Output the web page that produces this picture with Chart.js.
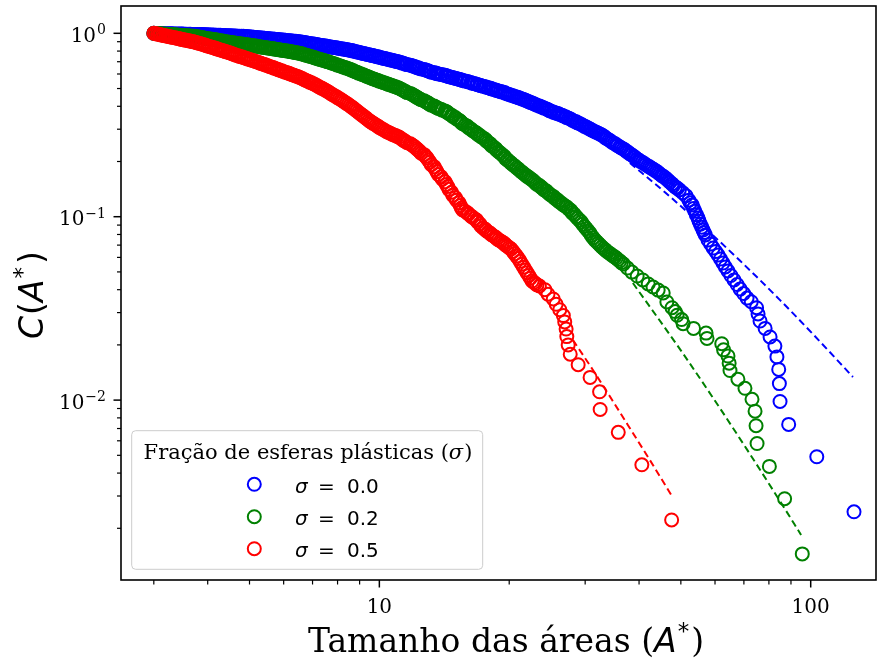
<!DOCTYPE html>
<html>
<head>
<meta charset="utf-8">
<script src="https://cdn.jsdelivr.net/npm/chart.js"></script>
<style>
  html, body { margin: 0; padding: 0; background: #fff; }
  canvas { display: block; }
</style>
</head>
<body>
<canvas id="chart" width="880" height="662"></canvas>
<script>
// valores (A*, C(A*))
const blueX = [3.00,3.11,3.23,3.36,3.48,3.62,3.76,3.90,4.05,4.20,4.36,4.53,4.70,4.88,5.06,5.26,5.46,5.67,5.88,6.11,
  6.34,6.58,6.83,7.09,7.36,7.64,7.93,8.23,8.55,8.87,9.21,9.56,9.93,10.3,10.7,11.1,11.5,12.0,12.4,12.9,
  13.4,13.9,14.4,15.0,15.5,16.1,16.8,17.4,18.1,18.7,19.5,20.2,21.0,21.8,22.6,23.5,24.4,25.3,26.2,27.2,
  28.3,29.4,30.5,31.6,32.8,34.1,35.4,36.8,38.1,39.6,41.1,42.7,44.3,46.0,47.7,49.6,
  51.4,53.1,54.8,56.3,57.8,59.4,61.0,62.6,64.3,66.4,68.6,71.2,
  72.8,74.9,75.5,76.3,78.4,80.5,82.6,83.5,84.3,84.6,84.9,88.9,103.3,126.0];
const blueY = [1.000,0.997,0.995,0.992,0.990,0.987,0.986,0.984,0.980,0.976,0.973,0.969,0.965,0.962,0.954,0.946,0.938,0.930,0.922,0.913,
  0.906,0.897,0.883,0.871,0.858,0.846,0.834,0.821,0.809,0.792,0.775,0.760,0.744,0.728,0.713,0.697,0.679,0.662,0.643,0.627,
  0.610,0.597,0.583,0.569,0.556,0.543,0.528,0.515,0.501,0.488,0.475,0.460,0.446,0.432,0.417,0.401,0.387,0.372,0.361,0.347,
  0.332,0.318,0.304,0.291,0.279,0.262,0.247,0.234,0.220,0.206,0.195,0.184,0.174,0.163,0.151,0.140,
  0.130,0.116,0.0984,0.0846,0.0746,0.0675,0.0618,0.0559,0.0506,0.0452,0.0403,0.0360,
  0.0344,0.0319,0.0295,0.0270,0.0246,0.0221,0.0197,0.0172,0.0147,0.0123,0.00983,0.00737,0.00491,0.00246];

const bandX = [3.06,3.17,3.29,3.42,3.55,3.69,3.83,3.97,4.13,4.28,
  4.45,4.61,4.79,4.97,5.16,5.36,5.56,5.78,5.99,6.22,
  6.46,6.70,6.96,7.22,7.50,7.78,8.08,8.39,8.71,9.04,
  9.38,9.74,10.1,10.5,10.9,11.3,11.8,12.2,12.7,13.1,
  13.6,14.2,14.7,15.3,15.8,16.4,17.1,17.7,18.4,19.1,
  19.8,20.6,21.4,22.2,23.0,23.9,24.8,25.8,26.7,27.8,
  28.8,29.9,31.0,32.2,33.4,34.7,36.1,37.4,38.9,40.3,
  41.9,43.5,45.1,46.8,48.6];
const bandX2 = [3.03,3.09,3.14,3.20,3.26,3.32,3.39,3.45,3.51,3.58,
  3.65,3.72,3.79,3.87,3.94,4.01,4.09,4.17,4.24,4.32,
  4.40,4.49,4.57,4.65,4.74,4.84,4.93,5.02,5.11,5.21,
  5.31,5.41,5.51,5.61,5.72,5.83,5.94,6.05,6.17,6.28,
  6.40,6.52,6.64,6.76,6.89,7.03,7.16,7.29,7.43,7.57,
  7.71,7.85,8.00,8.16,8.31,8.47,8.63,8.79,8.95,9.12,
  9.30,9.47,9.65,9.83,10.0,10.2,10.4,10.6,10.8,11.0,
  11.2,11.4,11.6,11.9,12.1,12.3,12.5,12.8,13.0,13.2,
  13.5,13.7,14.0,14.3,14.5,14.8,15.1,15.4,15.6,16.0,
  16.3,16.6,16.9,17.2,17.6,17.9,18.2,18.6,18.9,19.3,
  19.6,20.0,20.4,20.8,21.2,21.6,22.0,22.4,22.8,23.2,
  23.7,24.1,24.6,25.0,25.5,26.0,26.5,27.0,27.5,28.0,
  28.6,29.1,29.6,30.2,30.8,31.3,31.9,32.5,33.1,33.7,
  34.4,35.1,35.7,36.4,37.1,37.8,38.5,39.2,40.0,40.7,
  41.5,42.3,43.1,43.9,44.7,45.5,46.4,47.2,48.1,49.1];

const blueBandX = bandX.concat([50.5,52.2,53.9,55.5,57.0,58.6,60.2,61.8,63.4,65.3,67.5,69.9]);
const blueBandY = [0.998,0.996,0.993,0.991,0.989,0.986,0.985,0.982,0.978,0.975,
  0.971,0.967,0.963,0.958,0.950,0.942,0.934,0.926,0.918,0.910,
  0.901,0.890,0.877,0.864,0.852,0.840,0.827,0.815,0.800,0.783,
  0.767,0.752,0.736,0.720,0.705,0.688,0.670,0.652,0.635,0.618,
  0.603,0.590,0.576,0.562,0.549,0.535,0.521,0.508,0.494,0.481,
  0.467,0.453,0.439,0.424,0.409,0.394,0.379,0.366,0.354,0.340,
  0.325,0.311,0.297,0.285,0.270,0.254,0.240,0.227,0.213,0.200,
  0.189,0.179,0.168,0.157,0.145,
  0.135,0.123,0.107,0.091,0.0795,0.0710,0.0646,0.0588,0.0532,0.0478,0.0427,0.0381];
const blueBandX2 = bandX2.concat([52.6,53.5,54.3,55.1,55.9,56.6]);
const blueBandY2 = [0.999,0.998,0.997,0.996,0.994,0.993,0.992,0.991,0.990,0.988,
  0.987,0.986,0.986,0.985,0.983,0.981,0.979,0.977,0.976,0.974,
  0.972,0.970,0.968,0.966,0.964,0.963,0.960,0.956,0.952,0.948,
  0.944,0.940,0.936,0.932,0.928,0.924,0.920,0.916,0.912,0.908,
  0.904,0.899,0.894,0.887,0.880,0.874,0.868,0.861,0.855,0.849,
  0.843,0.837,0.831,0.824,0.818,0.812,0.805,0.796,0.788,0.779,
  0.771,0.764,0.756,0.748,0.740,0.732,0.724,0.716,0.709,0.701,
  0.693,0.684,0.675,0.666,0.657,0.648,0.639,0.631,0.623,0.614,
  0.607,0.600,0.594,0.587,0.580,0.573,0.566,0.559,0.553,0.546,
  0.539,0.532,0.525,0.518,0.512,0.505,0.498,0.491,0.485,0.478,
  0.471,0.464,0.457,0.450,0.443,0.436,0.428,0.420,0.413,0.405,
  0.398,0.391,0.383,0.376,0.369,0.364,0.358,0.351,0.344,0.336,
  0.329,0.322,0.315,0.308,0.301,0.294,0.288,0.282,0.275,0.266,
  0.258,0.251,0.244,0.237,0.231,0.224,0.217,0.210,0.203,0.198,
  0.192,0.187,0.182,0.177,0.171,0.166,0.160,0.154,0.148,0.143,
  0.119,0.111,0.1026,0.0946,0.0877,0.0820];

const greenX = [3.00,3.11,3.23,3.36,3.48,3.62,3.76,3.90,4.05,4.20,4.36,4.53,4.70,4.88,5.06,5.26,5.46,5.67,5.88,6.11,
  6.34,6.58,6.83,7.09,7.36,7.64,7.93,8.23,8.55,8.87,9.21,9.56,9.93,10.3,10.7,11.1,11.5,12.0,12.4,12.9,
  13.4,13.9,14.4,15.0,15.5,16.1,16.8,17.4,18.1,18.7,19.5,20.2,21.0,21.8,22.6,23.5,24.4,25.3,26.2,27.2,
  28.3,29.4,30.5,31.6,32.8,34.1,35.4,36.8,
  38.5,39.6,40.8,42.0,43.1,44.3,45.5,46.4,47.7,48.5,49.0,50.2,50.6,53.5,57.2,57.5,62.2,62.8,64.3,64.7,
  65.0,67.8,70.4,73.1,74.3,74.7,75.1,80.2,87.0,95.6];
const greenY = [1.000,0.994,0.987,0.981,0.974,0.968,0.962,0.945,0.932,0.918,0.904,0.891,0.879,0.870,0.858,0.846,0.835,0.823,0.812,0.801,
  0.789,0.775,0.755,0.735,0.716,0.697,0.677,0.656,0.636,0.613,0.592,0.571,0.553,0.536,0.519,0.503,0.481,0.460,0.439,0.420,
  0.401,0.385,0.370,0.347,0.326,0.306,0.286,0.269,0.249,0.231,0.213,0.196,0.182,0.169,0.159,0.148,0.138,0.129,0.120,0.113,
  0.103,0.0936,0.0836,0.0746,0.0684,0.0634,0.0595,0.0552,
  0.0499,0.0475,0.0452,0.0430,0.0414,0.0398,0.0384,0.0343,0.0319,0.0304,0.0290,0.0275,0.0261,0.0246,0.0232,0.0217,0.0203,0.0188,0.0174,0.0159,
  0.0145,0.0130,0.0116,0.0101,0.00870,0.00725,0.00580,0.00435,0.00290,0.00145];
const greenBandX = bandX.slice(0, 67).concat([37.6]);
const greenBandY = [0.997,0.990,0.984,0.977,0.971,0.965,0.953,0.938,0.925,0.911,
  0.897,0.885,0.874,0.864,0.852,0.840,0.829,0.817,0.806,0.795,
  0.782,0.765,0.745,0.725,0.706,0.687,0.666,0.646,0.624,0.602,
  0.581,0.562,0.544,0.527,0.511,0.492,0.470,0.449,0.429,0.410,
  0.393,0.377,0.358,0.336,0.316,0.296,0.277,0.259,0.240,0.222,
  0.204,0.189,0.175,0.164,0.153,0.143,0.133,0.124,0.116,0.108,
  0.098,0.0885,0.0790,0.0715,0.0659,0.0614,0.0573,
  0.0525];
const greenBandX2 = bandX2.slice(0, 134);
const greenBandY2 = [0.998,0.995,0.992,0.988,0.985,0.982,0.979,0.976,0.972,0.969,
  0.966,0.963,0.957,0.949,0.941,0.935,0.928,0.921,0.914,0.907,
  0.900,0.894,0.888,0.882,0.876,0.872,0.867,0.861,0.855,0.849,
  0.843,0.837,0.832,0.826,0.820,0.815,0.809,0.803,0.798,0.792,
  0.785,0.778,0.770,0.760,0.750,0.740,0.730,0.720,0.711,0.701,
  0.692,0.682,0.671,0.661,0.651,0.641,0.630,0.618,0.607,0.597,
  0.586,0.576,0.566,0.557,0.548,0.540,0.531,0.523,0.515,0.507,
  0.497,0.486,0.475,0.465,0.454,0.444,0.434,0.424,0.415,0.405,
  0.397,0.389,0.381,0.373,0.364,0.352,0.341,0.331,0.321,0.311,
  0.301,0.291,0.281,0.273,0.264,0.254,0.244,0.235,0.226,0.217,
  0.208,0.200,0.192,0.185,0.178,0.172,0.166,0.161,0.156,0.150,
  0.145,0.140,0.135,0.131,0.126,0.122,0.118,0.114,0.110,0.105,
  0.100,0.0958,0.0910,0.0860,0.0813,0.0768,0.0730,0.0699,0.0671,0.0646,
  0.0624,0.0604,0.0584,0.0562];

const redX = [3.00,3.11,3.23,3.36,3.48,3.62,3.76,3.90,4.05,4.20,4.36,4.53,4.70,4.88,5.06,5.26,5.46,5.67,5.88,6.11,
  6.34,6.58,6.83,7.09,7.36,7.64,7.93,8.23,8.55,8.87,9.21,9.56,9.93,10.3,10.7,11.1,11.5,12.0,12.4,12.9,
  13.4,13.9,14.4,15.0,15.5,16.1,16.8,17.4,18.1,18.7,19.5,20.2,21.0,21.8,22.6,23.5,
  24.2,24.6,25.3,25.7,26.2,26.7,26.9,27.1,27.2,27.4,27.7,28.9,30.8,32.4,32.5,35.8,40.6,47.6];
const redY = [1.000,0.981,0.964,0.946,0.927,0.910,0.892,0.869,0.846,0.823,0.801,0.778,0.755,0.733,0.714,0.692,0.671,0.650,0.629,0.610,
  0.591,0.571,0.548,0.526,0.501,0.477,0.452,0.428,0.403,0.377,0.352,0.329,0.311,0.295,0.282,0.272,0.257,0.243,0.227,0.209,
  0.187,0.165,0.146,0.127,0.1115,0.1034,0.0960,0.0868,0.0810,0.0760,0.0714,0.0667,0.0592,0.0512,0.0446,0.0419,
  0.0400,0.0378,0.0356,0.0333,0.0311,0.0289,0.0267,0.0244,0.0222,0.0200,0.0178,0.0156,0.0133,0.0111,0.00889,0.00667,0.00444,0.00222];
const redBandX = bandX.slice(0, 55);
const redBandY = [0.990,0.972,0.955,0.937,0.918,0.901,0.880,0.857,0.834,0.812,
  0.789,0.766,0.744,0.723,0.703,0.681,0.660,0.639,0.619,0.600,
  0.581,0.559,0.537,0.513,0.489,0.464,0.440,0.415,0.390,0.364,
  0.340,0.320,0.303,0.288,0.277,0.264,0.250,0.235,0.218,0.198,
  0.176,0.155,0.136,0.119,0.107,0.0996,0.0913,0.0838,0.0785,0.0737,
  0.0690,0.0628,0.0551,0.0478,0.0432];
const redBandX2 = bandX2.slice(0, 110);
const redBandY2 = [0.995,0.985,0.976,0.968,0.959,0.950,0.941,0.932,0.922,0.914,
  0.905,0.896,0.886,0.874,0.863,0.851,0.840,0.828,0.817,0.806,
  0.795,0.783,0.772,0.760,0.749,0.738,0.728,0.718,0.708,0.697,
  0.686,0.676,0.665,0.655,0.644,0.634,0.624,0.614,0.605,0.595,
  0.586,0.576,0.565,0.553,0.542,0.531,0.519,0.507,0.495,0.483,
  0.470,0.458,0.446,0.434,0.421,0.409,0.396,0.383,0.370,0.358,
  0.346,0.334,0.324,0.315,0.307,0.299,0.291,0.285,0.279,0.274,
  0.268,0.260,0.253,0.246,0.239,0.231,0.222,0.213,0.203,0.192,
  0.181,0.170,0.160,0.150,0.141,0.131,0.123,0.115,0.109,0.105,
  0.101,0.0978,0.0936,0.0890,0.0853,0.0824,0.0797,0.0772,0.0748,0.0725,
  0.0702,0.0678,0.0647,0.0610,0.0571,0.0531,0.0495,0.0462,0.0439,0.0425];

// ajustes (linhas tracejadas)
const blueFitX = [38.1, 46.0, 56.3, 68.6, 84.9, 101.2, 125.3];
const blueFitY = [0.1963, 0.1355, 0.0887, 0.0575, 0.0351, 0.0229, 0.01336];
const greenFitX = [38.7, 49.8, 59.4, 71.2, 84.9, 95.0];
const greenFitY = [0.0435, 0.0189, 0.01027, 0.00537, 0.00281, 0.00184];
const redFitX = [28.1, 31.3, 34.8, 38.7, 42.4, 47.7];
const redFitY = [0.02127, 0.01454, 0.00985, 0.00662, 0.00470, 0.00299];

const sigmaLabels = ['0.0', '0.2', '0.5'];
const seriesColors = ['#0000ff', '#008000', '#ff0000'];

const xTickVals = [10, 100];
const xTickText = ['10', '100'];
const yTickVals = [1, 0.1, 0.01];
const yTickBase = ['10', '10', '10'];
const yTickExp = ['0', '\u22121', '\u22122'];

const mk = (xs, ys) => xs.map((x, i) => ({ x: x, y: ys[i] }));

function scatterSet(points, color, order) {
    return {
        data: points,
        borderColor: color,
        backgroundColor: 'rgba(0,0,0,0)',
        borderWidth: 2,
        pointBorderWidth: 2,
        pointRadius: 6.5,
        pointStyle: 'circle',
        showLine: false,
        order: order
    };
}
function fitSet(xs, ys, color, order) {
    return {
        data: mk(xs, ys),
        borderColor: color,
        backgroundColor: 'rgba(0,0,0,0)',
        borderWidth: 2,
        borderDash: [7, 4],
        pointRadius: 0,
        showLine: true,
        cubicInterpolationMode: 'monotone',
        order: order
    };
}

// potencia de 10 com expoente
function drawPow(ctx, base, exp, right, baseY) {
    ctx.font = '20px "DejaVu Serif"';
    const wb = ctx.measureText(base).width;
    ctx.font = '14px "DejaVu Serif"';
    const we = ctx.measureText(exp).width;
    const x0 = right - we - wb - 1;
    ctx.font = '20px "DejaVu Serif"';
    ctx.fillText(base, x0, baseY);
    ctx.font = '14px "DejaVu Serif"';
    ctx.fillText(exp, x0 + wb + 1, baseY - 7.5);
}

// pedacos de texto em sequencia, centrados em cx
function drawPieces(ctx, pieces, cx, baseY) {
    let total = 0;
    pieces.forEach(p => { ctx.font = p.font; p.w = ctx.measureText(p.t).width; total += p.w + (p.gap || 0); });
    let x = cx - total / 2;
    pieces.forEach(p => {
        ctx.font = p.font;
        ctx.fillText(p.t, x, baseY - (p.rise || 0));
        x += p.w + (p.gap || 0);
    });
}

const decor = {
    id: 'decor',
    afterDraw(chart) {
        const ctx = chart.ctx;
        const xs = chart.scales.x, ys = chart.scales.y;
        const a = chart.chartArea;
        ctx.save();
        ctx.fillStyle = '#000';
        ctx.strokeStyle = '#000';

        // marcas menores
        ctx.lineWidth = 1.2;
        for (let d = 0.001; d < 100; d *= 10) {
            for (let m = 2; m <= 9; m++) {
                const v = d * m;
                if (v > xs.min && v < xs.max) {
                    const px = xs.getPixelForValue(v);
                    ctx.beginPath(); ctx.moveTo(px, a.bottom); ctx.lineTo(px, a.bottom + 4.5); ctx.stroke();
                }
                if (v > ys.min && v < ys.max) {
                    const py = ys.getPixelForValue(v);
                    ctx.beginPath(); ctx.moveTo(a.left, py); ctx.lineTo(a.left - 4, py); ctx.stroke();
                }
            }
        }
        // marcas principais
        ctx.lineWidth = 1.5;
        ctx.textBaseline = 'alphabetic';
        xTickVals.forEach((v, i) => {
            const px = xs.getPixelForValue(v);
            ctx.beginPath(); ctx.moveTo(px, a.bottom); ctx.lineTo(px, a.bottom + 7.5); ctx.stroke();
            ctx.font = '20px "DejaVu Serif"';
            ctx.textAlign = 'center';
            ctx.fillText(xTickText[i], px, 613);
        });
        ctx.textAlign = 'left';
        yTickVals.forEach((v, i) => {
            const py = ys.getPixelForValue(v);
            ctx.beginPath(); ctx.moveTo(a.left, py); ctx.lineTo(a.left - 7.5, py); ctx.stroke();
            drawPow(ctx, yTickBase[i], yTickExp[i], 106, py + 8.5);
        });

        // moldura
        ctx.lineWidth = 1.6;
        ctx.strokeRect(a.left, a.top, a.right - a.left, a.bottom - a.top);

        // rotulo x
        drawPieces(ctx, [
            { t: 'Tamanho das áreas (', font: '33px "DejaVu Serif"' },
            { t: 'A', font: 'italic 33px "DejaVu Sans"', gap: 1 },
            { t: '*', font: '23px "DejaVu Sans"', rise: 13, gap: 2 },
            { t: ')', font: '33px "DejaVu Serif"' }
        ], 506, 652);

        // rotulo y
        ctx.save();
        ctx.translate(43, 295);
        ctx.rotate(-Math.PI / 2);
        drawPieces(ctx, [
            { t: 'C', font: 'italic 33px "DejaVu Sans"', gap: 1 },
            { t: '(', font: '33px "DejaVu Sans"' },
            { t: 'A', font: 'italic 33px "DejaVu Sans"', gap: 1 },
            { t: '*', font: '23px "DejaVu Sans"', rise: 13, gap: 3 },
            { t: ')', font: '33px "DejaVu Sans"' }
        ], 0, 0);
        ctx.restore();

        // legenda
        const bx = 131.7, by = 430.7, bw = 351, bh = 138.6;
        ctx.beginPath();
        ctx.roundRect(bx, by, bw, bh, 4);
        ctx.fillStyle = 'rgba(255,255,255,0.8)';
        ctx.fill();
        ctx.strokeStyle = '#cccccc';
        ctx.lineWidth = 1;
        ctx.stroke();
        ctx.fillStyle = '#000';
        drawPieces(ctx, [
            { t: 'Fração de esferas plásticas (', font: '21px "DejaVu Serif"' },
            { t: 'σ', font: 'italic 21px "DejaVu Serif"', gap: 1 },
            { t: ')', font: '21px "DejaVu Serif"' }
        ], 308, 459);
        const rowY = [484.3, 516.7, 548.7];
        sigmaLabels.forEach((lab, i) => {
            ctx.beginPath();
            ctx.arc(254.3, rowY[i], 6.5, 0, Math.PI * 2);
            ctx.strokeStyle = seriesColors[i];
            ctx.lineWidth = 2;
            ctx.stroke();
            ctx.fillStyle = '#000';
            ctx.font = 'italic 20px "DejaVu Sans"';
            ctx.fillText('σ', 295, rowY[i] + 8.4);
            ctx.font = '20px "DejaVu Sans"';
            ctx.fillText('=', 318, rowY[i] + 8.4);
            ctx.fillText(lab, 347, rowY[i] + 8.4);
        });
        ctx.restore();
    }
};

const bluePts = mk(blueX, blueY).concat(mk(blueBandX, blueBandY), mk(blueBandX2, blueBandY2));
const greenPts = mk(greenX, greenY).concat(mk(greenBandX, greenBandY), mk(greenBandX2, greenBandY2));
const redPts = mk(redX, redY).concat(mk(redBandX, redBandY), mk(redBandX2, redBandY2));

new Chart(document.getElementById('chart').getContext('2d'), {
    type: 'scatter',
    data: {
        datasets: [
            scatterSet(bluePts, seriesColors[0], 6),
            fitSet(blueFitX, blueFitY, seriesColors[0], 5),
            scatterSet(greenPts, seriesColors[1], 4),
            fitSet(greenFitX, greenFitY, seriesColors[1], 3),
            scatterSet(redPts, seriesColors[2], 2),
            fitSet(redFitX, redFitY, seriesColors[2], 1)
        ]
    },
    options: {
        responsive: false,
        animation: false,
        devicePixelRatio: 1,
        layout: { autoPadding: false, padding: { left: 121, right: 4, top: 6, bottom: 82 } },
        plugins: { legend: { display: false }, tooltip: { enabled: false } },
        scales: {
            x: { type: 'logarithmic', min: 2.518, max: 141.7, display: false },
            y: { type: 'logarithmic', min: 1.045e-3, max: 1.409, display: false }
        }
    },
    plugins: [decor]
});
</script>
</body>
</html>
